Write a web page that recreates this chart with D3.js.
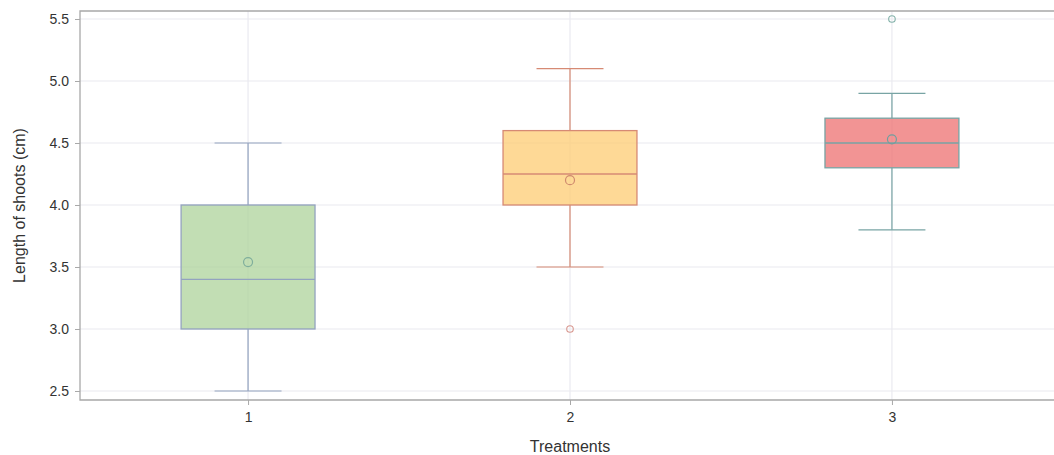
<!DOCTYPE html>
<html><head><meta charset="utf-8">
<script src="https://cdn.jsdelivr.net/npm/d3@7/dist/d3.min.js"></script>
<style>body{margin:0;background:#fff;}svg{display:block;font-family:"Liberation Sans",Arial,sans-serif;}</style>
</head><body><svg id="c" width="1054" height="455"></svg>
<script>
const categories = ["1","2","3"];
const q1 = [3.0, 4.0, 4.3];
const median = [3.4, 4.25, 4.5];
const q3 = [4.0, 4.6, 4.7];
const whiskerLow = [2.5, 3.5, 3.8];
const whiskerHigh = [4.5, 5.1, 4.9];
const means = [3.54, 4.2, 4.53];
const outliers = [[], [3.0], [5.5]];
const yTicks = [2.5, 3.0, 3.5, 4.0, 4.5, 5.0, 5.5];

const fills = ["#aed39b", "#fecc73", "#ee7070"];
const strokes = ["#93a3bf", "#d68a74", "#78a4a4"];
const markerStrokes = ["#7fae9c", "#cf8a6e", "#6f9f9f"];
const outlierStrokes = ["#93a3bf", "#d89890", "#84b2aa"];

const svg = d3.select("#c");
const L = 80, T = 11, B = 400, R = 1060;
const x = d3.scalePoint().domain(categories).range([L, R]).padding(0.522);
const y = d3.scaleLinear().domain([2.4274, 5.5645]).range([B, T]);
const step = x.step();
const boxW = step * 0.416;
const capW = boxW / 2;

// gridlines
svg.append("g").selectAll("line").data(yTicks).join("line")
  .attr("x1", L).attr("x2", 1054).attr("y1", d => y(d)).attr("y2", d => y(d))
  .attr("stroke", "#eaeaf0").attr("stroke-width", 1.2);
svg.append("g").selectAll("line").data(categories).join("line")
  .attr("x1", d => x(d)).attr("x2", d => x(d)).attr("y1", T).attr("y2", B)
  .attr("stroke", "#eaeaf0").attr("stroke-width", 1.2);

// boxes
const g = svg.append("g");
categories.forEach((c, i) => {
  const cx = x(c);
  const s = strokes[i];
  g.append("line").attr("x1", cx).attr("x2", cx).attr("y1", y(q3[i])).attr("y2", y(whiskerHigh[i])).attr("stroke", s).attr("stroke-width", 1.2);
  g.append("line").attr("x1", cx).attr("x2", cx).attr("y1", y(q1[i])).attr("y2", y(whiskerLow[i])).attr("stroke", s).attr("stroke-width", 1.2);
  g.append("line").attr("x1", cx - capW/2).attr("x2", cx + capW/2).attr("y1", y(whiskerHigh[i])).attr("y2", y(whiskerHigh[i])).attr("stroke", s).attr("stroke-width", 1.2);
  g.append("line").attr("x1", cx - capW/2).attr("x2", cx + capW/2).attr("y1", y(whiskerLow[i])).attr("y2", y(whiskerLow[i])).attr("stroke", s).attr("stroke-width", 1.2);
  g.append("rect").attr("x", cx - boxW/2).attr("width", boxW)
    .attr("y", y(q3[i])).attr("height", y(q1[i]) - y(q3[i]))
    .attr("fill", fills[i]).attr("fill-opacity", 0.75)
    .attr("stroke", s).attr("stroke-width", 1.3);
  g.append("line").attr("x1", cx - boxW/2).attr("x2", cx + boxW/2).attr("y1", y(median[i])).attr("y2", y(median[i])).attr("stroke", s).attr("stroke-width", 1.3);
  g.append("circle").attr("cx", cx).attr("cy", y(means[i])).attr("r", 4.5)
    .attr("fill", "none").attr("stroke", markerStrokes[i]).attr("stroke-width", 1.2);
  outliers[i].forEach(v => {
    g.append("circle").attr("cx", cx).attr("cy", y(v)).attr("r", 3.3)
      .attr("fill", "none").attr("stroke", outlierStrokes[i]).attr("stroke-width", 1.1);
  });
});

// frame
svg.append("path").attr("d", `M1054,${T}H${L}V${B}H1054`).attr("fill", "none").attr("stroke", "#a8a8a8").attr("stroke-width", 1.3);

// axes
const yAxis = svg.append("g").attr("transform", `translate(${L},0)`)
  .call(d3.axisLeft(y).tickValues(yTicks).tickFormat(d3.format(".1f")).tickSize(5).tickPadding(6));
const xAxis = svg.append("g").attr("transform", `translate(0,${B})`)
  .call(d3.axisBottom(x).tickSize(5).tickPadding(7));
[yAxis, xAxis].forEach(a => {
  a.select(".domain").remove();
  a.selectAll(".tick line").attr("stroke", "#a8a8a8");
  a.selectAll(".tick text").attr("fill", "#333").style("font-size", "14px").style("font-family", '"Liberation Sans",Arial,sans-serif');
});

svg.append("text").attr("x", x("2")).attr("y", 452).attr("text-anchor", "middle")
  .attr("fill", "#333").style("font-size", "16px").text("Treatments");
svg.append("text").attr("transform", `translate(25,${(T+B)/2}) rotate(-90)`).attr("text-anchor", "middle")
  .attr("fill", "#333").style("font-size", "16px").text("Length of shoots (cm)");
</script></body></html>
